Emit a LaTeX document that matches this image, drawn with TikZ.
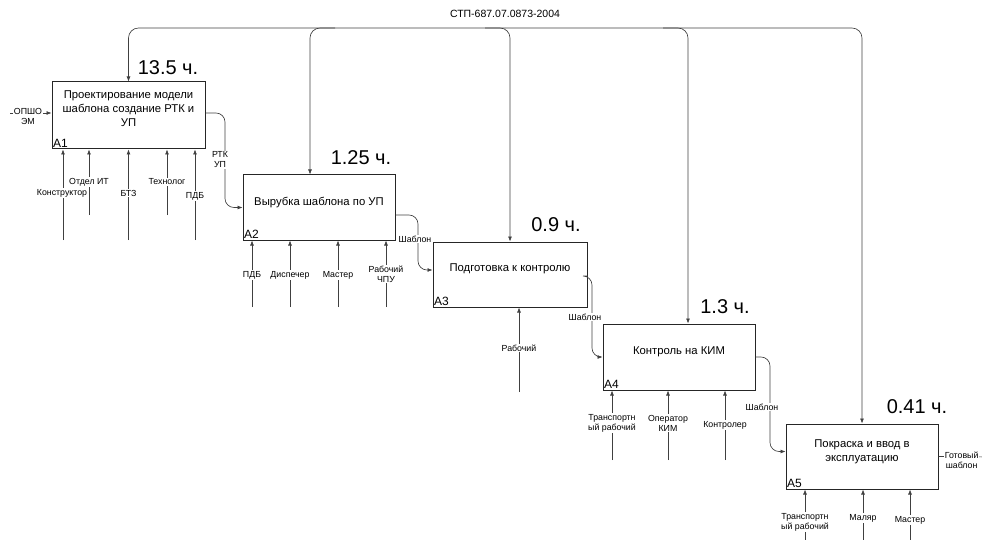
\documentclass[tikz,border=0pt]{standalone}
\usepackage{fontspec}
\setmainfont{Liberation Sans}
\usetikzlibrary{arrows.meta,calc}
\begin{document}
\begin{tikzpicture}[x=1pt,y=-1pt,
 box/.style={draw=black!85, line width=1pt, minimum width=152pt, minimum height=65pt, inner sep=0pt},
 btxt/.style={align=center, font=\fontsize{11.3}{14}\selectfont, inner sep=0pt},
 ln/.style={draw=black!75, line width=0.65pt},
 arr/.style={ln, -{Latex[length=5pt,width=4pt]}},
 lab/.style={font=\fontsize{8.8}{10}\selectfont, fill=white, inner sep=0.6pt, align=center},
 hrs/.style={font=\fontsize{20}{20}\selectfont, inner sep=0pt},
 idx/.style={font=\fontsize{12}{12}\selectfont, anchor=south west, inner sep=1.5pt}]
\useasboundingbox (0,0) rectangle (982,540);

% boxes
\node[box, minimum width=153pt, minimum height=67pt] (A1) at (128.5,115.5) {};
\node[box] (A2) at (319,207.5) {};
\node[box, minimum width=154pt] (A3) at (510,274.5) {};
\node[box, minimum height=66pt] (A4) at (679,357) {};
\node[box] (A5) at (862,456.5) {};

\node[btxt] (T1) at ($(A1.center)+(0,-7)$) {Проектирование модели\\шаблона создание РТК и\\УП};
\node[btxt] (T2) at ($(A2.center)+(0,-5)$) {Вырубка шаблона по УП};
\node[btxt] (T3) at ($(A3.center)+(0,-6)$) {Подготовка к контролю};
\node[btxt] (T4) at ($(A4.center)+(0,-5)$) {Контроль на КИМ};
\node[btxt] (T5) at ($(A5.center)+(0,-5)$) {Покраска и ввод в\\эксплуатацию};

\node[idx] (I1) at (A1.south west) {A1};
\node[idx] (I2) at (A2.south west) {A2};
\node[idx] (I3) at (A3.south west) {A3};
\node[idx] (I4) at (A4.south west) {A4};
\node[idx] (I5) at (A5.south west) {A5};

\node[hrs] (H1) at (168,68) {13.5 ч.};
\node[hrs] (H2) at (361,158) {1.25 ч.};
\node[hrs] (H3) at (556,225) {0.9 ч.};
\node[hrs] (H4) at (725,307) {1.3 ч.};
\node[hrs] (H5) at (917,407) {0.41 ч.};

% control (top)
\coordinate (ctl) at (505,28);
\node[font=\fontsize{10.5}{11}\selectfont, inner sep=1pt] (ctlL) at (505,14) {СТП-687.07.0873-2004};
\coordinate (k1) at (128.5,28);
\coordinate (k2) at (310,28);
\coordinate (k3) at (510,28);
\coordinate (k4) at (688,28);
\coordinate (k5) at (862,28);
\draw[arr, rounded corners=10pt] (ctl) -- (k1) -- (A1.north);
\draw[arr, rounded corners=10pt] (ctl) -- (k5) -- (A5.north);
\draw[arr, rounded corners=10pt] ($(k2)+(25,0)$) -- (k2) -- (A2.north -| k2);
\draw[arr, rounded corners=10pt] ($(k3)+(-25,0)$) -- (k3) -- (A3.north -| k3);
\draw[arr, rounded corners=10pt] ($(k4)+(-25,0)$) -- (k4) -- (A4.north -| k4);

% input to A1
\coordinate (in1) at (10,113);
\draw[arr] (in1) -- (A1.west |- in1);
\node[lab, anchor=north, yshift=5.5pt] (in1L) at (28,113) {ОПШО\\ЭМ};

% flows between boxes
\coordinate (j1) at (225,160);
\draw[arr, rounded corners=9pt] ($(A1.east)+(0,-2.5)$) -| (j1) |- (A2.west);
\node[lab] (j1L) at (220,160) {РТК\\УП};

\coordinate (j2) at (418,239);
\draw[arr, rounded corners=9pt] ($(A2.east)+(0,7.5)$) -| (j2) |- ($(A3.west)+(0,-4.5)$);
\node[lab] (j2L) at (415,239) {Шаблон};

\coordinate (j3) at (592,317);
\draw[arr, rounded corners=9pt] ($(A3.east)+(0,1.5)$) -| (j3) |- (A4.west);
\node[lab] (j3L) at (585,317) {Шаблон};

\coordinate (j4) at (770,407);
\draw[arr, rounded corners=9pt] (A4.east) -| (j4) |- ($(A5.west)+(0,-5)$);
\node[lab] (j4L) at (762,407) {Шаблон};

% output of A5
\coordinate (out5) at (990,457);
\draw[ln] (A5.east) -- (out5);
\node[lab, anchor=north west, yshift=5.5pt] (out5L) at (944,457) {Готовый\\шаблон};

% mechanisms A1
\coordinate (m11) at (63,240);
\coordinate (m12) at (89,215);
\coordinate (m13) at (128.5,240);
\coordinate (m14) at (167,215);
\coordinate (m15) at (195,240);
\foreach \m in {m11,m12,m13,m14,m15} \draw[arr] (\m) -- (A1.south -| \m);
\node[lab] (m11L) at (62,193) {Конструктор};
\node[lab] (m12L) at (89,182) {Отдел ИТ};
\node[lab] (m13L) at (128.5,193) {БТЗ};
\node[lab] (m14L) at (167,182) {Технолог};
\node[lab] (m15L) at (195,196) {ПДБ};

% mechanisms A2
\coordinate (m21) at (252,307);
\coordinate (m22) at (290,307);
\coordinate (m23) at (338,307);
\coordinate (m24) at (386,307);
\foreach \m in {m21,m22,m23,m24} \draw[arr] (\m) -- (A2.south -| \m);
\node[lab] (m21L) at (252,275) {ПДБ};
\node[lab] (m22L) at (290,275) {Диспечер};
\node[lab] (m23L) at (338,275) {Мастер};
\node[lab] (m24L) at (386,274) {Рабочий\\ЧПУ};

% mechanisms A3
\coordinate (m31) at (519,392);
\draw[arr] (m31) -- (A3.south -| m31);
\node[lab] (m31L) at (519,348) {Рабочий};

% mechanisms A4
\coordinate (m41) at (612,460);
\coordinate (m42) at (668,460);
\coordinate (m43) at (725,460);
\foreach \m in {m41,m42,m43} \draw[arr] (\m) -- (A4.south -| \m);
\node[lab] (m41L) at (612,423) {Транспортн\\ый рабочий};
\node[lab] (m42L) at (668,423) {Оператор\\КИМ};
\node[lab] (m43L) at (725,425) {Контролер};

% mechanisms A5
\coordinate (m51) at (805,545);
\coordinate (m52) at (863,545);
\coordinate (m53) at (910,545);
\foreach \m in {m51,m52,m53} \draw[arr] (\m) -- (A5.south -| \m);
\node[lab] (m51L) at (805,522) {Транспортн\\ый рабочий};
\node[lab] (m52L) at (863,518) {Маляр};
\node[lab] (m53L) at (910,520) {Мастер};
\end{tikzpicture}
\end{document}
